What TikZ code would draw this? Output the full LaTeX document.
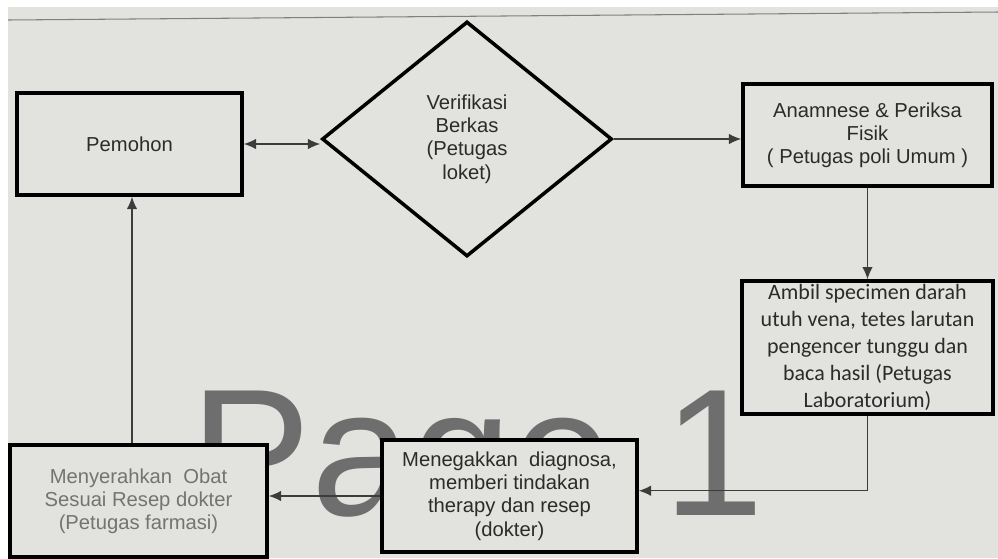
\documentclass[tikz,border=0pt]{standalone}
\usepackage{fontspec}
\setmainfont{Liberation Sans}
\newfontfamily\labfont{Carlito}
\usetikzlibrary{shapes.geometric}
\usetikzlibrary{arrows.meta}
\definecolor{screen}{HTML}{E2E2DF}
\definecolor{ink}{HTML}{2B2B2B}
\definecolor{wire}{HTML}{3C3C3C}
\definecolor{wmark}{HTML}{6E6E6E}
\tikzset{>={Latex[length=7pt,width=6pt]}}
\tikzset{proc/.style={draw=black, line width=2pt, fill=screen, text=ink, align=center, inner sep=2pt, font=\fontsize{11.5}{13.2}\selectfont}}
\tikzset{dec/.style={proc, diamond, inner sep=0pt}}
\tikzset{flow/.style={draw=wire, line width=0.8pt}}

\begin{document}
\begin{tikzpicture}
\useasboundingbox (0,0) rectangle (19.96,-11.16);
\fill[screen] (0.16,-0.14) rectangle (19.96,-11.16);
\draw[gray, line width=0.6pt] (0.16,-0.40) -- (19.96,-0.24);

% watermark
\node[anchor=base west, text=wmark, inner sep=0pt, font=\fontsize{103}{103}\selectfont] (wm) at (3.8,-10.3) {Page 1};

\node[proc, minimum width=4.5cm, minimum height=2.04cm] (pem) at (2.59,-2.88) {Pemohon};
\node[dec, minimum width=5.8cm, minimum height=4.7cm] (ver) at (9.34,-2.78) {Verifikasi\\Berkas\\(Petugas\\loket)};
\node[proc, minimum width=4.98cm, minimum height=2.04cm] (ana) at (17.35,-2.7) {Anamnese \& Periksa\\Fisik\\( Petugas poli Umum )};
\node[proc, minimum width=5.02cm, minimum height=2.62cm, font=\labfont\fontsize{12.5}{15.3}\selectfont] (amb) at (17.35,-6.95) {Ambil specimen darah\\utuh vena, tetes larutan\\pengencer tunggu dan\\baca hasil (Petugas\\Laboratorium)};
\node[proc, minimum width=5.1cm, minimum height=2.24cm] (meg) at (10.19,-9.92) {Menegakkan\ \ diagnosa,\\memberi tindakan\\therapy dan resep\\(dokter)};
\node[proc, minimum width=5.14cm, minimum height=2.24cm, text=gray!90!black] (obat) at (2.77,-10.02) {Menyerahkan\ \ Obat\\Sesuai Resep dokter\\(Petugas farmasi)};

\coordinate (up) at (2.64,0);

\draw[flow, <->] (pem.east) -- (pem.east -| ver.west);
\draw[flow, ->] (ver.east) -- (ver.east -| ana.west);
\draw[flow, ->] (ana.south) -- (amb.north);
\draw[flow, ->] (amb.south) |- ([yshift=3pt]meg.east);
\draw[flow, ->] (meg.west) -- (meg.west -| obat.east);
\draw[flow, ->] (obat.north -| up) -- (pem.south -| up);
\end{tikzpicture}
\end{document}
